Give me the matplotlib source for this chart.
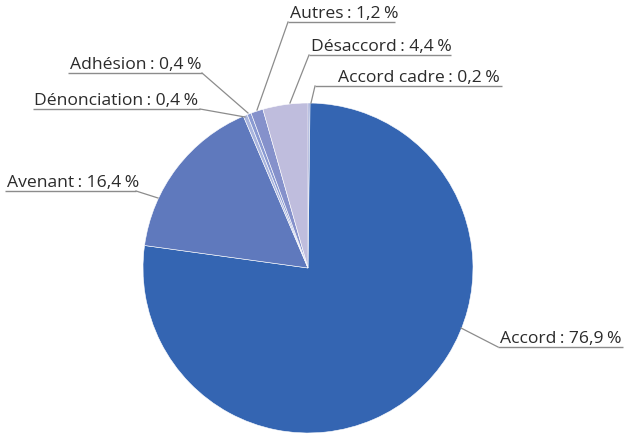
import matplotlib
matplotlib.use("Agg")
import matplotlib.pyplot as plt
import numpy as np

plt.rcParams['font.family'] = ['Open Sans', 'DejaVu Sans']

categories = ["Accord cadre", "Accord", "Avenant", "Dénonciation", "Adhésion", "Autres", "Désaccord"]
values = [0.2, 76.9, 16.4, 0.4, 0.4, 1.2, 4.4]
value_labels = ["0,2", "76,9", "16,4", "0,4", "0,4", "1,2", "4,4"]
colors = ["#7d8bc9", "#3465b2", "#5f79bd", "#a9b5de", "#8a9ad2", "#8591cb", "#bfbddd"]

W, H = 625, 434
fig = plt.figure(figsize=(W / 100, H / 100), dpi=100)
ax = fig.add_axes([0, 0, 1, 1])

cx, cy, R = 308, H - 268, 165
wedges, _ = ax.pie(values, colors=colors, startangle=90, counterclock=False,
                   center=(cx, cy), radius=R, frame=True,
                   wedgeprops=dict(edgecolor='white', linewidth=0.4))
ax.set_xlim(0, W)
ax.set_ylim(0, H)
ax.set_aspect('equal')
ax.axis('off')

# label layout in pixel coords: text x, underline y, side, underline start/end, anchor on pie
layout = {
    "Accord cadre": (338, 86, 'right', 315, 502, (311, 103)),
    "Accord": (500, 347, 'right', 498, 623, (461, 328)),
    "Avenant": (7, 191, 'left', 5, 136, (158, 198)),
    "Dénonciation": (34, 109, 'left', 33, 200, (245, 117)),
    "Adhésion": (70, 73, 'left', 68, 202, (248, 113)),
    "Autres": (290, 22, 'right', 288, 395, (257, 110)),
    "Désaccord": (311, 55, 'right', 309, 451, (290, 103)),
}

line_col = "#8c8c8c"
for w, cat, vl in zip(wedges, categories, value_labels):
    tx, uy, side, u0, u1, (apx, apy) = layout[cat]
    uyd = H - uy
    ayd = H - apy
    ax.plot([u0, u1], [uyd, uyd], color=line_col, lw=1.0, solid_capstyle='butt')
    if side == 'right':
        ax.plot([apx, u0], [ayd, uyd], color=line_col, lw=0.9)
    else:
        ax.plot([apx, u1], [ayd, uyd], color=line_col, lw=0.9)
    ax.text(tx, uyd + 4, f"{cat}\u202f: {vl}\u202f%", fontsize=12.6, color="#2b2b2b",
            ha='left', va='baseline')

fig.savefig("out.png", dpi=100)
